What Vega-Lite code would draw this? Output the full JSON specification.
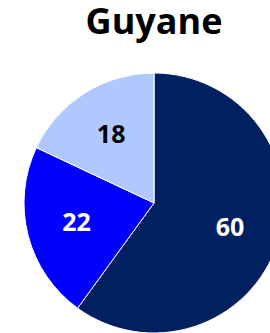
{
  "$schema": "https://vega.github.io/schema/vega-lite/v6.json",
  "autosize": {"type": "none"},
  "padding": {"left": 0, "top": 72, "right": 0, "bottom": 0},
  "width": 308,
  "height": 262,
  "background": "white",
  "title": {
    "text": "Guyane",
    "font": "Open Sans",
    "fontSize": 36,
    "fontWeight": "bold",
    "color": "#000000",
    "anchor": "middle",
    "baseline": "alphabetic",
    "offset": 1
  },
  "data": {
    "values": [
      {"categorie": "A", "valeur": 60, "rang": 1},
      {"categorie": "B", "valeur": 22, "rang": 2},
      {"categorie": "C", "valeur": 18, "rang": 3}
    ]
  },
  "encoding": {
    "theta": {"field": "valeur", "type": "quantitative", "stack": true},
    "order": {"field": "rang", "type": "quantitative"}
  },
  "layer": [
    {
      "mark": {"type": "arc", "outerRadius": 130, "stroke": "white", "strokeWidth": 1},
      "encoding": {
        "color": {
          "field": "categorie",
          "type": "nominal",
          "scale": {"domain": ["A", "B", "C"], "range": ["#002060", "#0000FF", "#AFC9FF"]},
          "legend": null
        }
      }
    },
    {
      "mark": {"type": "text", "radius": 80, "font": "Open Sans", "fontSize": 25, "fontWeight": "bold", "baseline": "middle", "align": "center"},
      "encoding": {
        "text": {"field": "valeur", "type": "quantitative"},
        "color": {
          "field": "categorie",
          "type": "nominal",
          "scale": {"domain": ["A", "B", "C"], "range": ["#FFFFFF", "#FFFFFF", "#000000"]},
          "legend": null
        }
      }
    }
  ],
  "resolve": {"scale": {"color": "independent"}}
}
